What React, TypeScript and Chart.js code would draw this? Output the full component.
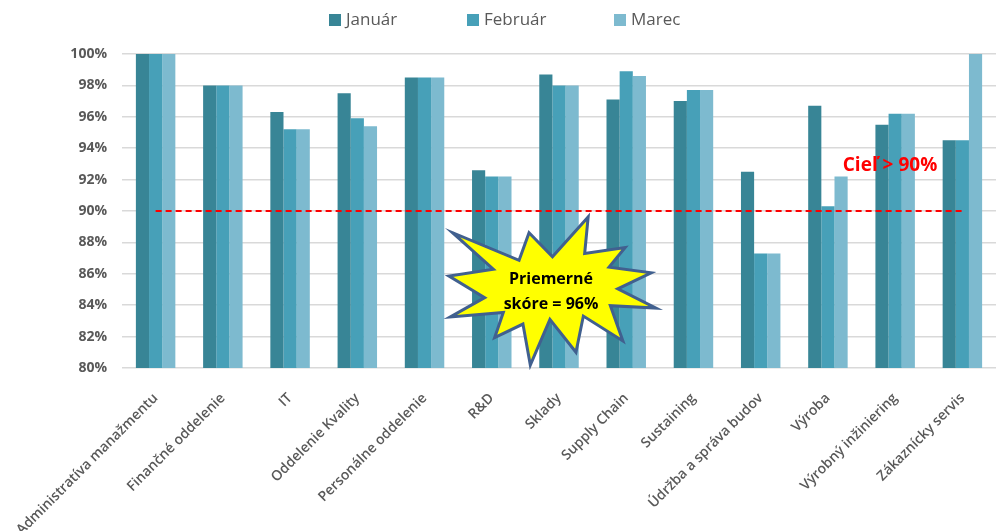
import React, { useEffect, useRef } from "react";
import { Chart, registerables } from "chart.js";

Chart.register(...registerables);

const categories = [
  "Administratíva manažmentu",
  "Finančné oddelenie",
  "IT",
  "Oddelenie Kvality",
  "Personálne oddelenie",
  "R&D",
  "Sklady",
  "Supply Chain",
  "Sustaining",
  "Údržba a správa budov",
  "Výroba",
  "Výrobný inžiniering",
  "Zákaznícky servis",
];

const seriesNames = ["Január", "Február", "Marec"];
const januar = [100, 98.0, 96.3, 97.5, 98.5, 92.6, 98.7, 97.1, 97.0, 92.5, 96.7, 95.5, 94.5];
const februar = [100, 98.0, 95.2, 95.9, 98.5, 92.2, 98.0, 98.9, 97.7, 87.3, 90.3, 96.2, 94.5];
const marec = [100, 98.0, 95.2, 95.4, 98.5, 92.2, 98.0, 98.6, 97.7, 87.3, 92.2, 96.2, 100];
const target = 90;
const yMin = 80;
const yMax = 100;
const yStep = 2;
const targetLabel = "Cieľ > 90%";
const badgeLines = ["Priemerné", "skóre = 96%"];

const colors = ["#388596", "#47A0B8", "#7DBACF"];
const FONT = "'Open Sans', 'Noto Sans', sans-serif";

// PowerPoint "irregularSeal1" (Explosion 1) outline, 21600-unit box
const sealPts: [number, number][] = [
  [10800, 5800], [14522, 0], [14155, 5325], [18380, 4457], [16702, 7315],
  [21097, 8137], [17607, 10475], [21600, 13290], [16837, 12942], [18145, 18095],
  [14020, 14457], [13247, 19737], [10532, 14935], [8485, 21600], [7715, 15627],
  [4762, 17617], [5667, 13937], [135, 14587], [3722, 11775], [0, 8615],
  [4627, 7617], [370, 2295], [7312, 6320], [8352, 2295],
];

const overlayPlugin = {
  id: "overlay",
  afterDraw(chart: any) {
    const ctx = chart.ctx;
    const area = chart.chartArea;
    // legend
    ctx.save();
    ctx.font = `17px ${FONT}`;
    ctx.textBaseline = "middle";
    const legendX = [329, 467, 614];
    seriesNames.forEach((n, i) => {
      ctx.fillStyle = colors[i];
      ctx.fillRect(legendX[i], 14, 12, 12);
      ctx.fillStyle = "#595959";
      ctx.textAlign = "left";
      ctx.fillText(n, legendX[i] + 17, 20);
    });
    ctx.restore();

    // target label
    ctx.save();
    ctx.font = `bold 19px ${FONT}`;
    ctx.fillStyle = "#FF0000";
    ctx.textAlign = "center";
    ctx.textBaseline = "middle";
    ctx.fillText(targetLabel, area.left + 768, area.top + 112);
    ctx.restore();

    // starburst
    const bx = area.left + 327;
    const by = area.top + 163;
    const bw = 207;
    const bh = 148;
    ctx.save();
    ctx.beginPath();
    sealPts.forEach(([px, py], i) => {
      const x = bx + (px / 21600) * bw;
      const y = by + (py / 21600) * bh;
      if (i === 0) ctx.moveTo(x, y);
      else ctx.lineTo(x, y);
    });
    ctx.closePath();
    ctx.fillStyle = "#FFFF00";
    ctx.fill();
    ctx.lineWidth = 3;
    ctx.lineJoin = "miter";
    ctx.strokeStyle = "#41608F";
    ctx.stroke();
    ctx.font = `bold 16px ${FONT}`;
    ctx.fillStyle = "#000000";
    ctx.textAlign = "center";
    ctx.textBaseline = "middle";
    ctx.fillText(badgeLines[0], bx + 102, by + 62);
    ctx.fillText(badgeLines[1], bx + 102, by + 87);
    ctx.restore();
  },
};

export default function App() {
  const ref = useRef<HTMLCanvasElement>(null);
  useEffect(() => {
    if (!ref.current) return;
    const chart = new Chart(ref.current, {
      type: "bar",
      data: {
        labels: categories,
        datasets: [
          {
            type: "line",
            label: "Cieľ",
            data: categories.map(() => target),
            borderColor: "#FF0000",
            borderWidth: 2,
            borderDash: [6, 4],
            pointRadius: 0,
            fill: false,
            order: 0,
          } as any,
          { label: seriesNames[0], data: januar, backgroundColor: colors[0], order: 1 },
          { label: seriesNames[1], data: februar, backgroundColor: colors[1], order: 1 },
          { label: seriesNames[2], data: marec, backgroundColor: colors[2], order: 1 },
        ],
      },
      options: {
        responsive: false,
        animation: false,
        layout: { padding: { top: 54, left: 0, right: 1, bottom: 0 } },
        plugins: {
          legend: { display: false },
          tooltip: { enabled: false },
        },
        datasets: {
          bar: { categoryPercentage: 0.587, barPercentage: 1.0 },
        } as any,
        scales: {
          x: {
            grid: { display: false },
            border: { display: false },
            ticks: {
              autoSkip: false,
              maxRotation: 45,
              minRotation: 45,
              color: "#595959",
              font: { family: FONT, size: 14, weight: 600 },
              padding: 14,
            },
            afterFit(scale: any) {
              scale.height = 163;
              scale.paddingLeft = 0;
              scale.paddingRight = 0;
            },
          },
          y: {
            min: yMin,
            max: yMax,
            grid: { color: "#D9D9D9", lineWidth: 1.5, drawTicks: false },
            border: { display: false },
            ticks: {
              stepSize: yStep,
              color: "#595959",
              font: { family: FONT, size: 14, weight: "bold" },
              padding: 15,
              callback: (v: any) => `${v}%`,
            },
            afterFit(scale: any) {
              scale.width = 122;
            },
          },
        },
      },
      plugins: [overlayPlugin],
    });
    return () => chart.destroy();
  }, []);
  return (
    <div style={{ position: "absolute", left: 0, top: 0, width: 997, height: 531, background: "#fff" }}>
      <canvas ref={ref} width={997} height={531} />
    </div>
  );
}
